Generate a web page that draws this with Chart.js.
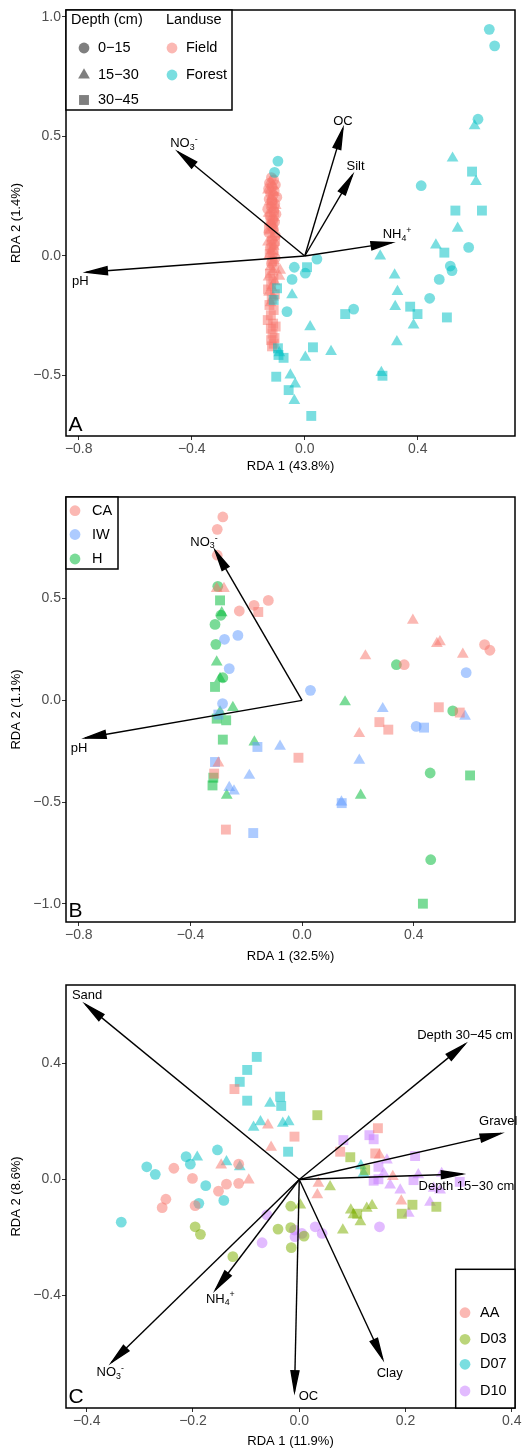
<!DOCTYPE html>
<html>
<head>
<meta charset="utf-8">
<script src="https://cdn.jsdelivr.net/npm/chart.js@4.4.1/dist/chart.umd.min.js"></script>
<style>
  body { margin: 0; background: #fff; width: 530px; height: 1450px; overflow: hidden; }
  canvas { position: absolute; left: 0; display: block; }
</style>
</head>
<body>
<canvas id="chartA" width="530" height="476" style="top:0"></canvas>
<canvas id="chartB" width="530" height="490" style="top:476px"></canvas>
<canvas id="chartC" width="530" height="484" style="top:966px"></canvas>
<script>
// ---- A: landuse x depth ----
const aXTicks = [-0.8, -0.4, 0, 0.4];
const aYTicks = [-0.5, 0, 0.5, 1.0];
const aFieldCircle = [
  [-0.118,0.328],[-0.110,0.318],[-0.125,0.305],[-0.104,0.298],[-0.116,0.290],[-0.128,0.281],
  [-0.108,0.272],[-0.121,0.262],[-0.112,0.255],[-0.099,0.246],[-0.126,0.238],[-0.115,0.229],
  [-0.106,0.218],[-0.119,0.207],[-0.131,0.196],[-0.110,0.188],[-0.102,0.175],[-0.123,0.166],
  [-0.114,0.152],[-0.107,0.141],[-0.120,0.128],[-0.111,0.112],[-0.127,0.098],[-0.104,0.085],
  [-0.116,0.069],[-0.109,0.051],[-0.122,0.034],[-0.113,0.012],[-0.105,-0.009],[-0.118,-0.031]
];
const aFieldTriangle = [
  [-0.121,0.312],[-0.113,0.295],[-0.130,0.276],[-0.109,0.265],[-0.117,0.247],[-0.125,0.226],
  [-0.103,0.211],[-0.116,0.194],[-0.128,0.178],[-0.108,0.160],[-0.119,0.143],[-0.112,0.119],
  [-0.124,0.104],[-0.106,0.090],[-0.115,0.076],[-0.130,0.058],[-0.110,0.040],[-0.119,0.021],
  [-0.126,0.002],[-0.109,-0.018],[-0.121,-0.045],[-0.113,-0.066],[-0.128,-0.088],[-0.106,-0.108],
  [-0.118,-0.131],[-0.126,-0.152],[-0.112,-0.172],[-0.087,-0.060],[-0.090,-0.085],[-0.121,-0.196]
];
const aFieldSquare = [
  [-0.116,0.221],[-0.109,0.183],[-0.121,0.150],[-0.113,0.133],[-0.127,0.115],[-0.105,0.063],
  [-0.118,0.045],[-0.110,0.024],[-0.124,0.008],[-0.115,-0.022],[-0.108,-0.050],[-0.123,-0.074],
  [-0.111,-0.097],[-0.119,-0.118],[-0.130,-0.140],[-0.106,-0.160],[-0.117,-0.181],[-0.125,-0.205],
  [-0.110,-0.226],[-0.120,-0.248],[-0.131,-0.268],[-0.112,-0.283],[-0.103,-0.295],[-0.120,-0.304],
  [-0.114,-0.325],[-0.107,-0.343],[-0.119,-0.352],[-0.110,-0.367],[-0.116,-0.378]
];
const aForestCircle = [
  [0.653,0.948],[0.672,0.879],[0.613,0.572],[0.412,0.294],[-0.095,0.397],[-0.107,0.350],
  [0.580,0.036],[0.515,-0.042],[0.521,-0.061],[0.476,-0.098],[0.442,-0.177],[0.173,-0.222],
  [0.043,-0.013],[-0.037,-0.047],[0.002,-0.072],[-0.045,-0.098],[-0.063,-0.233]
];
const aForestTriangle = [
  [0.601,0.544],[0.523,0.409],[0.606,0.311],[0.541,0.116],[0.464,0.046],[0.267,0.000],
  [0.318,-0.080],[0.328,-0.149],[0.320,-0.212],[0.385,-0.289],[0.326,-0.359],[0.271,-0.488],
  [0.019,-0.296],[0.093,-0.400],[0.002,-0.424],[-0.037,-0.605],[-0.051,-0.498],[-0.034,-0.536],
  [-0.090,-0.405],[-0.045,-0.163]
];
const aForestSquare = [
  [0.592,0.353],[0.533,0.190],[0.627,0.190],[0.494,0.014],[0.503,-0.257],[0.373,-0.212],
  [0.399,-0.243],[0.275,-0.501],[0.143,-0.243],[0.029,-0.382],[0.023,-0.669],[-0.057,-0.561],
  [-0.101,-0.505],[-0.075,-0.426],[-0.093,-0.414],[0.008,-0.047],[-0.110,-0.184],[-0.095,-0.386],
  [-0.098,-0.135]
];
const aArrowNames = ['NO_3^-', 'OC', 'Silt', 'NH_4^+', 'pH'];
const aArrowX = [-0.449, 0.135, 0.169, 0.309, -0.773];
const aArrowY = [0.436, 0.534, 0.339, 0.056, -0.068];

// ---- B: CA / IW / H ----
const bXTicks = [-0.8, -0.4, 0, 0.4];
const bYTicks = [-1.0, -0.5, 0, 0.5];
const bCaCircle = [[-0.284,0.901],[-0.304,0.840],[-0.304,0.713],[-0.225,0.439],[-0.172,0.467],[-0.121,0.491],[0.366,0.175],[0.654,0.274],[0.673,0.246]];
const bCaTriangle = [[-0.306,0.549],[-0.280,0.549],[0.397,0.393],[0.483,0.279],[0.494,0.287],[0.227,0.218],[0.576,0.226],[0.205,-0.164],[-0.300,-0.308]];
const bCaSquare = [[-0.157,0.434],[0.490,-0.034],[0.565,-0.060],[0.277,-0.107],[0.309,-0.144],[-0.013,-0.282],[-0.315,-0.360],[-0.273,-0.635]];
const bIwCircle = [[-0.278,0.300],[-0.230,0.319],[-0.261,0.156],[-0.285,-0.016],[0.030,0.049],[0.588,0.136],[0.409,-0.128]];
const bIwTriangle = [[0.289,-0.041],[0.584,-0.079],[-0.079,-0.226],[-0.189,-0.369],[-0.261,-0.429],[-0.244,-0.446],[0.205,-0.295],[0.141,-0.500]];
const bIwSquare = [[0.437,-0.134],[-0.160,-0.229],[-0.312,-0.303],[0.142,-0.505],[-0.175,-0.652],[-0.300,-0.070]];
const bHCircle = [[-0.302,0.560],[-0.291,0.418],[-0.312,0.373],[-0.309,0.275],[-0.284,0.111],[0.338,0.175],[0.540,-0.052],[0.459,-0.357],[0.461,-0.783]];
const bHTriangle = [[-0.288,0.430],[-0.306,0.188],[-0.294,0.107],[-0.248,-0.036],[-0.294,-0.057],[-0.171,-0.205],[-0.270,-0.467],[0.154,-0.008],[0.210,-0.467]];
const bHSquare = [[-0.294,0.491],[-0.312,0.066],[-0.306,-0.090],[-0.272,-0.098],[-0.284,-0.193],[-0.318,-0.380],[-0.321,-0.418],[0.602,-0.369],[0.433,-0.999]];
const bArrowNames = ['NO_3^-', 'pH'];
const bArrowX = [-0.312, -0.778];
const bArrowY = [0.737, -0.185];

// ---- C: AA / D03 / D07 / D10 ----
const cXTicks = [-0.4, -0.2, 0, 0.2, 0.4];
const cYTicks = [-0.4, 0, 0.4];
const cAaCircle = [[-0.236,0.039],[-0.201,0.004],[-0.137,-0.016],[-0.152,-0.040],[-0.114,0.053],[-0.114,-0.013],[-0.251,-0.068],[-0.258,-0.097],[-0.196,-0.090]];
const cAaTriangle = [[-0.059,0.188],[-0.053,0.111],[-0.147,0.050],[-0.095,-0.002],[0.151,0.084],[0.176,0.010],[0.036,-0.013],[0.034,-0.053],[0.192,-0.074]];
const cAaSquare = [[-0.122,0.312],[-0.009,0.148],[0.077,0.096],[0.148,0.177],[0.143,0.090]];
const cD03Circle = [[-0.196,-0.163],[-0.186,-0.189],[-0.040,-0.171],[-0.016,-0.166],[-0.016,-0.092],[0.009,-0.195],[-0.015,-0.235],[-0.125,-0.266]];
const cD03Triangle = [[0.058,-0.025],[0.002,-0.088],[0.097,-0.105],[0.102,-0.122],[0.127,-0.099],[0.137,-0.090],[0.115,-0.146],[0.082,-0.174]];
const cD03Square = [[0.034,0.222],[0.096,0.077],[0.124,0.033],[0.109,-0.118],[0.213,-0.087],[0.193,-0.118],[0.258,-0.094]];
const cD07Circle = [[-0.154,0.102],[-0.213,0.079],[-0.205,0.053],[-0.287,0.044],[-0.271,0.018],[-0.176,-0.021],[-0.142,-0.072],[-0.189,-0.082],[-0.335,-0.147]];
const cD07Triangle = [[-0.055,0.263],[-0.073,0.199],[-0.086,0.180],[-0.031,0.194],[-0.020,0.199],[-0.192,0.077],[-0.137,0.061],[-0.112,0.044],[0.116,0.047],[0.121,0.021]];
const cD07Square = [[-0.080,0.423],[-0.098,0.378],[-0.112,0.337],[-0.098,0.272],[-0.036,0.286],[-0.034,0.254],[-0.021,0.096]];
const cD10Circle = [[0.151,-0.163],[-0.061,-0.122],[-0.009,-0.174],[0.005,-0.186],[0.030,-0.163],[0.043,-0.186],[-0.070,-0.218],[-0.008,-0.197]];
const cD10Triangle = [[0.165,0.067],[0.159,0.021],[0.171,-0.019],[0.190,-0.036],[0.224,0.016],[0.268,0.021],[0.265,-0.036],[0.246,-0.079],[0.206,-0.117],[0.253,-0.030]];
const cD10Square = [[0.083,0.136],[0.132,0.153],[0.140,0.139],[0.218,0.081],[0.149,0.044],[0.149,0.001],[0.302,-0.008],[0.215,-0.002],[0.140,-0.004]];
const cArrowNames = ['Sand', 'Depth 30\u221245 cm', 'Gravel', 'Depth 15\u221230 cm', 'NO_3^-', 'NH_4^+', 'OC', 'Clay'];
const cArrowX = [-0.403, 0.312, 0.380, 0.307, -0.354, -0.158, -0.009, 0.157];
const cArrowY = [0.605, 0.467, 0.159, 0.019, -0.632, -0.381, -0.732, -0.619];

// ---- style ----
const FONT = '"Liberation Sans", Arial, Helvetica, sans-serif';
const ALPHA = 0.52;
const RED = '#F8766D', CYAN = '#00BFC4', BLUE = '#619CFF', GREEN = '#00BA38', OLIVE = '#7CAE00', PURPLE = '#C77CFF';
const SHAPES = {
  circle:   { style: 'circle',   r: 5.4 },
  triangle: { style: 'triangle', r: 6.8 },
  square:   { style: 'rect',     r: 7 }
};

function rgba(hex, a) {
  const n = parseInt(hex.slice(1), 16);
  return `rgba(${n >> 16},${(n >> 8) & 255},${n & 255},${a})`;
}
function fmtTick(v) {
  if (Math.abs(v) < 1e-9) v = 0;
  return v.toFixed(1).replace('-', '\u2212');
}

function series(points, color, shape) {
  const s = SHAPES[shape];
  return {
    data: points.map(p => ({ x: p[0], y: p[1] })),
    pointStyle: s.style,
    pointRadius: s.r,
    pointHoverRadius: s.r,
    backgroundColor: rgba(color, ALPHA),
    pointBackgroundColor: rgba(color, ALPHA),
    borderWidth: 0,
    pointBorderWidth: 0
  };
}

function axis(o) {
  const vertical = o.position === 'left';
  return {
    type: 'linear', position: o.position, min: o.min, max: o.max,
    afterBuildTicks: s => { s.ticks = o.ticks.map(v => ({ value: v })); },
    afterFit: s => { if (vertical) s.width = o.size; else s.height = o.size; },
    ticks: { callback: v => fmtTick(v), color: '#4d4d4d', font: { family: FONT, size: 14 }, padding: o.pad, maxRotation: 0, autoSkip: false },
    grid: { drawOnChartArea: false, drawTicks: true, tickLength: 4, color: '#333', lineWidth: 1 },
    border: { display: false },
    title: { display: true, text: o.title, color: '#000', font: { family: FONT, size: 13 }, padding: o.titlePad }
  };
}

// "NO_3^-" -> NO, sub 3, sup -
function parseLabel(s) {
  const parts = [];
  for (let i = 0; i < s.length; i++) {
    const c = s[i];
    if ((c === '_' || c === '^') && i + 1 < s.length) { parts.push({ t: s[i + 1], mode: c }); i++; }
    else if (parts.length && !parts[parts.length - 1].mode) parts[parts.length - 1].t += c;
    else parts.push({ t: c, mode: '' });
  }
  return parts;
}

function drawRichText(ctx, text, cx, cy, size) {
  const parts = parseLabel(text);
  const small = size * 0.68;
  let w = 0;
  parts.forEach(p => {
    ctx.font = `${p.mode ? small : size}px ${FONT}`;
    p.w = ctx.measureText(p.t).width;
    w += p.w;
  });
  let x = cx - w / 2;
  ctx.textAlign = 'left';
  ctx.textBaseline = 'middle';
  parts.forEach(p => {
    ctx.font = `${p.mode ? small : size}px ${FONT}`;
    const dy = p.mode === '_' ? size * 0.28 : p.mode === '^' ? -size * 0.32 : 0;
    ctx.fillText(p.t, x, cy + dy);
    x += p.w;
  });
}

// closed, narrow arrowhead
function drawArrow(ctx, x0, y0, x1, y1) {
  const ang = Math.atan2(y1 - y0, x1 - x0);
  const L = 21, W = 4;
  const bx = x1 - L * Math.cos(ang), by = y1 - L * Math.sin(ang);
  ctx.beginPath(); ctx.moveTo(x0, y0); ctx.lineTo(x1, y1); ctx.stroke();
  ctx.beginPath();
  ctx.moveTo(x1, y1);
  ctx.lineTo(bx + W * Math.sin(ang), by - W * Math.cos(ang));
  ctx.lineTo(bx - W * Math.sin(ang), by + W * Math.cos(ang));
  ctx.closePath(); ctx.fill(); ctx.stroke();
}

function drawShape(ctx, shape, cx, cy, fill) {
  const r = SHAPES[shape].r;
  ctx.fillStyle = fill;
  ctx.beginPath();
  if (shape === 'circle') ctx.arc(cx, cy, r, 0, Math.PI * 2);
  else if (shape === 'triangle') {
    for (let k = 0; k < 3; k++) {
      const a = k * 2 * Math.PI / 3;
      const px = cx + Math.sin(a) * r, py = cy - Math.cos(a) * r;
      if (k) ctx.lineTo(px, py); else ctx.moveTo(px, py);
    }
    ctx.closePath();
  } else {
    const s = r * Math.SQRT1_2;
    ctx.rect(cx - s, cy - s, 2 * s, 2 * s);
  }
  ctx.fill();
}

// arrows, frame, legend box and panel tag on top of the points
const biplotLayer = {
  id: 'biplotLayer',
  afterDatasetsDraw(chart, args, opts) {
    const { ctx, chartArea: ca } = chart;
    const sx = chart.scales.x, sy = chart.scales.y;
    ctx.save();
    ctx.strokeStyle = '#000'; ctx.lineWidth = 1.4; ctx.lineJoin = 'miter';
    const ox = sx.getPixelForValue(0), oy = sy.getPixelForValue(0);
    opts.names.forEach((name, i) => {
      const tx = sx.getPixelForValue(opts.ax[i]), ty = sy.getPixelForValue(opts.ay[i]);
      ctx.fillStyle = '#000';
      drawArrow(ctx, ox, oy, tx, ty);
      const off = opts.labelOffsets[i];
      drawRichText(ctx, name, tx + off[0], ty + off[1], 13);
    });

    ctx.lineWidth = 1.5; ctx.strokeStyle = '#000';
    ctx.strokeRect(ca.left, ca.top, ca.right - ca.left, ca.bottom - ca.top);

    const lg = opts.legend;
    const bx = lg.anchor === 'bottomright' ? ca.right - lg.w : ca.left;
    const by = lg.anchor === 'bottomright' ? ca.bottom - lg.h : ca.top;
    ctx.fillStyle = '#fff';
    ctx.fillRect(bx, by, lg.w, lg.h);
    ctx.strokeRect(bx, by, lg.w, lg.h);
    ctx.textAlign = 'left'; ctx.textBaseline = 'middle';
    (lg.titles || []).forEach(t => {
      ctx.fillStyle = '#000'; ctx.font = `14.5px ${FONT}`;
      ctx.fillText(t.text, bx + t.x, by + t.y);
    });
    lg.items.forEach(it => {
      drawShape(ctx, it.shape, bx + it.kx, by + it.y, it.fill);
      ctx.fillStyle = '#000'; ctx.font = `14.5px ${FONT}`;
      ctx.fillText(it.label, bx + it.tx, by + it.y);
    });

    ctx.fillStyle = '#000'; ctx.font = `21px ${FONT}`;
    ctx.textAlign = 'left'; ctx.textBaseline = 'alphabetic';
    ctx.fillText(opts.tag, ca.left + 2.5, ca.bottom - 5);
    ctx.restore();
  }
};

function makePanel(id, p) {
  return new Chart(document.getElementById(id), {
    type: 'scatter',
    data: { datasets: p.datasets },
    options: {
      responsive: false,
      animation: false,
      events: [],
      layout: { padding: { top: p.padTop, right: 15, left: 0, bottom: 0 } },
      scales: {
        x: axis({ position: 'bottom', min: p.xMin, max: p.xMax, ticks: p.xTicks, size: p.xSize, pad: 1, title: p.xTitle, titlePad: { top: 0, bottom: p.xTitlePad } }),
        y: axis({ position: 'left', min: p.yMin, max: p.yMax, ticks: p.yTicks, size: 66, pad: 1, title: p.yTitle, titlePad: { top: 9, bottom: 0 } })
      },
      plugins: {
        legend: { display: false },
        tooltip: { enabled: false },
        biplotLayer: p.layer
      }
    },
    plugins: [biplotLayer]
  });
}

const GREY = 'rgba(0,0,0,0.5)';

makePanel('chartA', {
  padTop: 10, xSize: 40, xTitlePad: 2.2,
  xMin: -0.845, xMax: 0.744, yMin: -0.753, yMax: 1.029,
  xTicks: aXTicks, yTicks: aYTicks,
  xTitle: 'RDA 1 (43.8%)', yTitle: 'RDA 2 (1.4%)',
  datasets: [
    series(aForestCircle, CYAN, 'circle'), series(aForestTriangle, CYAN, 'triangle'), series(aForestSquare, CYAN, 'square'),
    series(aFieldCircle, RED, 'circle'), series(aFieldTriangle, RED, 'triangle'), series(aFieldSquare, RED, 'square')
  ],
  layer: {
    names: aArrowNames, ax: aArrowX, ay: aArrowY,
    labelOffsets: [[6, -8], [0, -7], [3, -9], [5, -8], [-6, 9]],
    tag: 'A',
    legend: {
      anchor: 'topleft', w: 166, h: 100,
      titles: [{ text: 'Depth (cm)', x: 5, y: 10 }, { text: 'Landuse', x: 100, y: 10 }],
      items: [
        { shape: 'circle', fill: GREY, label: '0\u221215', kx: 18, tx: 32, y: 38 },
        { shape: 'triangle', fill: GREY, label: '15\u221230', kx: 18, tx: 32, y: 65 },
        { shape: 'square', fill: GREY, label: '30\u221245', kx: 18, tx: 32, y: 90 },
        { shape: 'circle', fill: rgba(RED, ALPHA), label: 'Field', kx: 106, tx: 120, y: 38 },
        { shape: 'circle', fill: rgba(CYAN, ALPHA), label: 'Forest', kx: 106, tx: 120, y: 65 }
      ]
    }
  }
});

makePanel('chartB', {
  padTop: 21, xSize: 44, xTitlePad: 2.2,
  xMin: -0.846, xMax: 0.763, yMin: -1.089, yMax: 0.999,
  xTicks: bXTicks, yTicks: bYTicks,
  xTitle: 'RDA 1 (32.5%)', yTitle: 'RDA 2 (1.1%)',
  datasets: [
    series(bCaCircle, RED, 'circle'), series(bCaTriangle, RED, 'triangle'), series(bCaSquare, RED, 'square'),
    series(bIwCircle, BLUE, 'circle'), series(bIwTriangle, BLUE, 'triangle'), series(bIwSquare, BLUE, 'square'),
    series(bHCircle, GREEN, 'circle'), series(bHTriangle, GREEN, 'triangle'), series(bHSquare, GREEN, 'square')
  ],
  layer: {
    names: bArrowNames, ax: bArrowX, ay: bArrowY,
    labelOffsets: [[-11, -8], [-6, 10]],
    tag: 'B',
    legend: {
      anchor: 'topleft', w: 52, h: 72,
      items: [
        { shape: 'circle', fill: rgba(RED, ALPHA), label: 'CA', kx: 9, tx: 26, y: 13.7 },
        { shape: 'circle', fill: rgba(BLUE, ALPHA), label: 'IW', kx: 9, tx: 26, y: 37.5 },
        { shape: 'circle', fill: rgba(GREEN, ALPHA), label: 'H', kx: 9, tx: 26, y: 62 }
      ]
    }
  }
});

makePanel('chartC', {
  padTop: 19, xSize: 42, xTitlePad: 0.5,
  xMin: -0.439, xMax: 0.406, yMin: -0.788, yMax: 0.671,
  xTicks: cXTicks, yTicks: cYTicks,
  xTitle: 'RDA 1 (11.9%)', yTitle: 'RDA 2 (8.6%)',
  datasets: [
    series(cAaCircle, RED, 'circle'), series(cAaTriangle, RED, 'triangle'), series(cAaSquare, RED, 'square'),
    series(cD03Circle, OLIVE, 'circle'), series(cD03Triangle, OLIVE, 'triangle'), series(cD03Square, OLIVE, 'square'),
    series(cD07Circle, CYAN, 'circle'), series(cD07Triangle, CYAN, 'triangle'), series(cD07Square, CYAN, 'square'),
    series(cD10Circle, PURPLE, 'circle'), series(cD10Triangle, PURPLE, 'triangle'), series(cD10Square, PURPLE, 'square')
  ],
  layer: {
    names: cArrowNames, ax: cArrowX, ay: cArrowY,
    labelOffsets: [[2, -9], [0, -9], [-3, -12], [4, 12], [-1, 10], [5, 9], [14, 5], [7, 14]],
    tag: 'C',
    legend: {
      anchor: 'bottomright', w: 59.3, h: 138.7,
      items: [
        { shape: 'circle', fill: rgba(RED, ALPHA), label: 'AA', kx: 9.3, tx: 24.3, y: 43.4 },
        { shape: 'circle', fill: rgba(OLIVE, ALPHA), label: 'D03', kx: 9.3, tx: 24.3, y: 70 },
        { shape: 'circle', fill: rgba(CYAN, ALPHA), label: 'D07', kx: 9.3, tx: 24.3, y: 95 },
        { shape: 'circle', fill: rgba(PURPLE, ALPHA), label: 'D10', kx: 9.3, tx: 24.3, y: 121.7 }
      ]
    }
  }
});
</script>
</body>
</html>
